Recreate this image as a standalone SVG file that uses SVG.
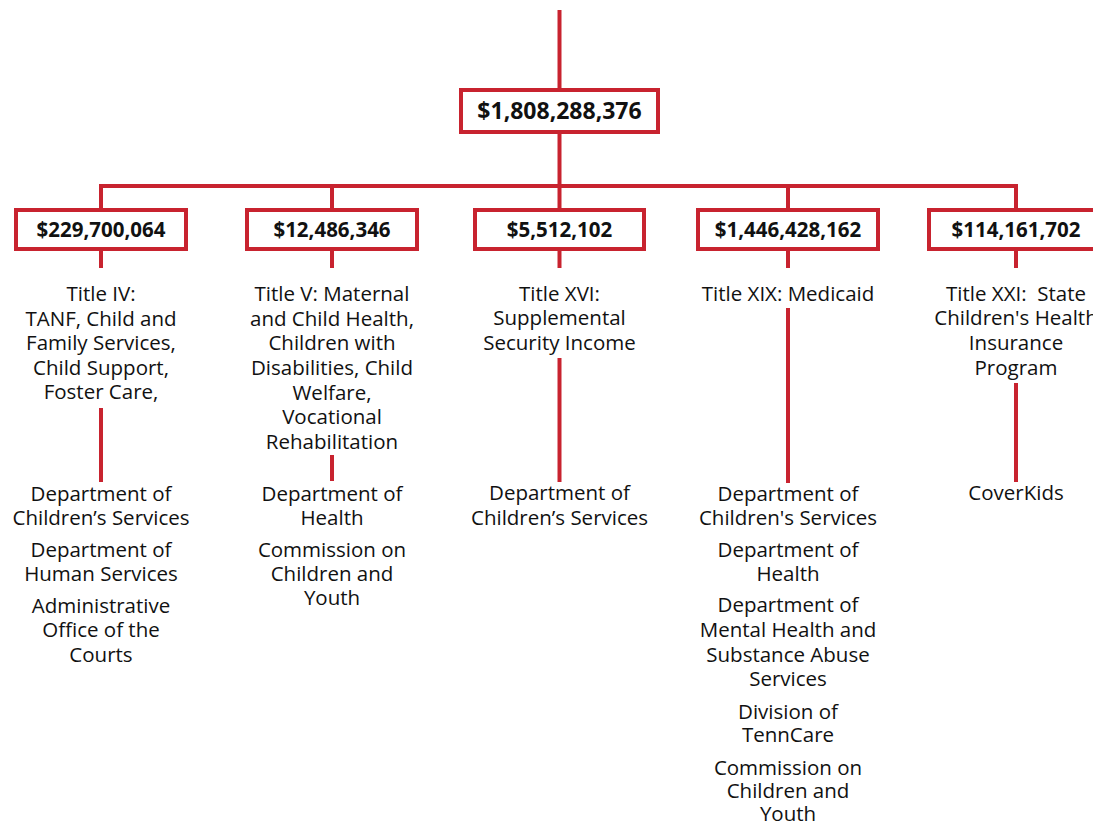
<svg xmlns="http://www.w3.org/2000/svg" width="1093" height="825" viewBox="0 0 1093 825">
<style>
.bg{fill:#ffffff}
.box{fill:#ffffff;stroke:#c8232f;stroke-width:4}
.ln{stroke:#c8232f;stroke-width:4;fill:none}
.amt{font-family:"Open Sans","Liberation Sans",sans-serif;font-weight:700;font-size:20.5px;fill:#111;text-anchor:middle}
.top{font-size:23px}
.t{font-family:"Open Sans","Liberation Sans",sans-serif;font-size:20.5px;fill:#111;text-anchor:middle}
</style>
<rect class="bg" x="0" y="0" width="1093" height="825"/>
<g id="connectors">
<line class="ln" x1="559.5" y1="10" x2="559.5" y2="89"/>
<line class="ln" x1="559.5" y1="133" x2="559.5" y2="208"/>
<polyline class="ln" points="101,208 101,186 1016,186 1016,208"/>
<line class="ln" x1="332" y1="186" x2="332" y2="208"/>
<line class="ln" x1="788" y1="186" x2="788" y2="208"/>
<line class="ln" x1="101" y1="250" x2="101" y2="268"/>
<line class="ln" x1="332" y1="250" x2="332" y2="268"/>
<line class="ln" x1="559.5" y1="250" x2="559.5" y2="268"/>
<line class="ln" x1="788" y1="250" x2="788" y2="268"/>
<line class="ln" x1="1016" y1="250" x2="1016" y2="268"/>
<line class="ln" x1="101" y1="408" x2="101" y2="482"/>
<line class="ln" x1="332" y1="455" x2="332" y2="481"/>
<line class="ln" x1="559.5" y1="358" x2="559.5" y2="482"/>
<line class="ln" x1="788" y1="308" x2="788" y2="483"/>
<line class="ln" x1="1016" y1="383" x2="1016" y2="482"/>
</g>
<g id="total">
<rect class="box" x="461" y="90" width="197" height="42"/>
<text class="amt top" x="559.5" y="119">$1,808,288,376</text>
</g>
<g id="title-iv">
<rect class="box" x="16" y="210" width="170" height="39"/>
<text class="amt" x="101" y="237">$229,700,064</text>
<text class="t"><tspan x="101" y="301">Title IV:</tspan><tspan x="101" y="326">TANF, Child and</tspan><tspan x="101" y="350">Family Services,</tspan><tspan x="101" y="375">Child Support,</tspan><tspan x="101" y="399">Foster Care,</tspan></text>
<text class="t"><tspan x="101" y="501">Department of</tspan><tspan x="101" y="525">Children’s Services</tspan></text>
<text class="t"><tspan x="101" y="557">Department of</tspan><tspan x="101" y="581">Human Services</tspan></text>
<text class="t"><tspan x="101" y="613">Administrative</tspan><tspan x="101" y="637">Office of the</tspan><tspan x="101" y="662">Courts</tspan></text>
</g>
<g id="title-v">
<rect class="box" x="247" y="210" width="170" height="39"/>
<text class="amt" x="332" y="237">$12,486,346</text>
<text class="t"><tspan x="332" y="301">Title V: Maternal</tspan><tspan x="332" y="326">and Child Health,</tspan><tspan x="332" y="350">Children with</tspan><tspan x="332" y="375">Disabilities, Child</tspan><tspan x="332" y="400">Welfare,</tspan><tspan x="332" y="424">Vocational</tspan><tspan x="332" y="449">Rehabilitation</tspan></text>
<text class="t"><tspan x="332" y="501">Department of</tspan><tspan x="332" y="525">Health</tspan></text>
<text class="t"><tspan x="332" y="557">Commission on</tspan><tspan x="332" y="581">Children and</tspan><tspan x="332" y="605">Youth</tspan></text>
</g>
<g id="title-xvi">
<rect class="box" x="475" y="210" width="169" height="39"/>
<text class="amt" x="559.5" y="237">$5,512,102</text>
<text class="t"><tspan x="559.5" y="301">Title XVI:</tspan><tspan x="559.5" y="325">Supplemental</tspan><tspan x="559.5" y="350">Security Income</tspan></text>
<text class="t"><tspan x="559.5" y="500">Department of</tspan><tspan x="559.5" y="525">Children’s Services</tspan></text>
</g>
<g id="title-xix">
<rect class="box" x="698" y="210" width="180" height="39"/>
<text class="amt" x="788" y="237">$1,446,428,162</text>
<text class="t" x="788" y="301">Title XIX: Medicaid</text>
<text class="t"><tspan x="788" y="501">Department of</tspan><tspan x="788" y="525">Children's Services</tspan></text>
<text class="t"><tspan x="788" y="557">Department of</tspan><tspan x="788" y="581">Health</tspan></text>
<text class="t"><tspan x="788" y="612">Department of</tspan><tspan x="788" y="637">Mental Health and</tspan><tspan x="788" y="662">Substance Abuse</tspan><tspan x="788" y="686">Services</tspan></text>
<text class="t"><tspan x="788" y="719">Division of</tspan><tspan x="788" y="742">TennCare</tspan></text>
<text class="t"><tspan x="788" y="775">Commission on</tspan><tspan x="788" y="798">Children and</tspan><tspan x="788" y="821">Youth</tspan></text>
</g>
<g id="title-xxi">
<rect class="box" x="929" y="210" width="180" height="39"/>
<text class="amt" x="1016" y="237">$114,161,702</text>
<text class="t" xml:space="preserve"><tspan x="1016" y="301">Title XXI:  State</tspan><tspan x="1016" y="325">Children's Health</tspan><tspan x="1016" y="350">Insurance</tspan><tspan x="1016" y="375">Program</tspan></text>
<text class="t" x="1016" y="500">CoverKids</text>
</g>
</svg>
